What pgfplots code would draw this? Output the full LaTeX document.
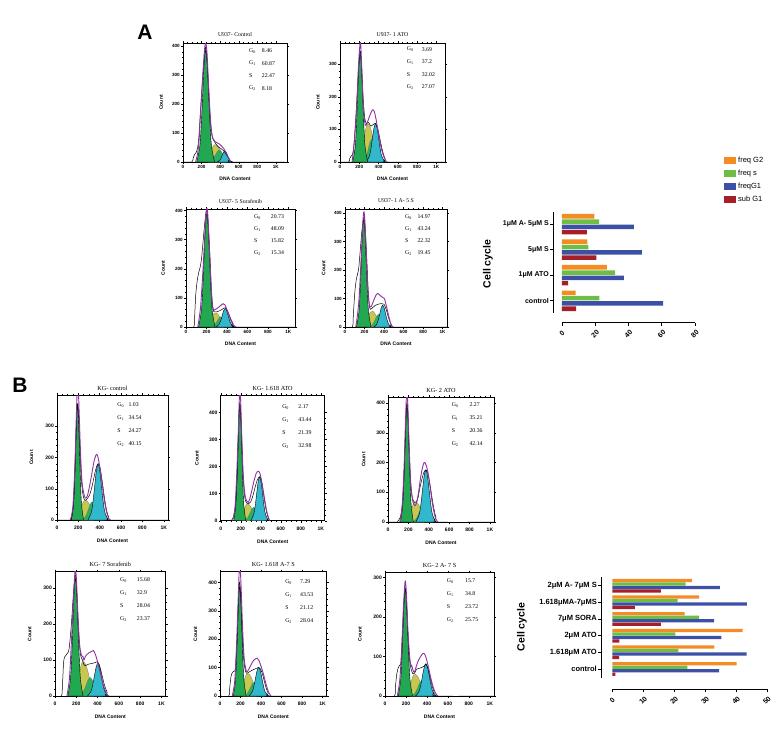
\documentclass[border=0pt]{standalone}
\usepackage{fontspec}
\setmainfont{Liberation Serif}
\setsansfont{Liberation Sans}
\usepackage{pgfplots}
\pgfplotsset{compat=1.18}
\definecolor{gG1}{RGB}{34,168,80}
\definecolor{gGb}{RGB}{45,175,95}
\definecolor{gS}{RGB}{200,200,80}
\definecolor{gG2}{RGB}{50,184,204}
\definecolor{gPur}{RGB}{142,50,160}
\definecolor{bOr}{RGB}{245,140,35}
\definecolor{bGr}{RGB}{110,190,70}
\definecolor{bBl}{RGB}{60,80,165}
\definecolor{bRd}{RGB}{165,30,40}
\pgfplotsset{
 /pgf/number format/assume math mode=true,
 hist/.style={
  scale only axis, anchor=south west,
  xmin=0, ymin=0,
  axis line style={line width=0.6pt},
  tick align=outside,
  major tick length=2pt, minor tick length=1pt,
  tick style={line width=0.4pt, black},
  xtick={0,200,400,600,800,1000}, xticklabels={0,200,400,600,800,1K},
  minor x tick num=3, minor y tick num=4,
  tick label style={font=\fontsize{4.6}{5}\selectfont\bfseries\sffamily, inner sep=1pt},
  xlabel={DNA Content}, ylabel={Count},
  label style={font=\fontsize{5}{6}\selectfont\bfseries\sffamily},
  xlabel style={at={(rel axis cs:0.5,0)}, anchor=center, yshift=-17pt},
  ylabel style={at={(rel axis cs:-0.21,0.5)}, anchor=center},
  title style={font=\fontsize{5.8}{6}\selectfont, at={(rel axis cs:0.5,1)}, anchor=center, yshift=2pt},
 },
 histB/.style={hist, xmax=1040,
  tick label style={font=\fontsize{5}{5.5}\selectfont\bfseries\sffamily},
  xticklabel style={yshift=-3pt},
  xlabel style={yshift=-4pt},
  ylabel style={at={(rel axis cs:-0.23,0.5)}},
  title style={font=\fontsize{6.2}{7}\selectfont, yshift=-1pt},
 },
 gs/.style={smooth, tension=0.6, fill=gS, draw=black!55, line width=0.3pt},
 gg/.style={smooth, tension=0.6, fill=gGb, draw=black!55, line width=0.3pt},
 gt/.style={smooth, tension=0.6, fill=gG2, draw=black, line width=0.4pt},
 g1/.style={smooth, tension=0.6, fill=gG1, draw=black, line width=0.4pt},
 dat/.style={smooth, tension=0.5, black, line width=0.5pt},
 pur/.style={smooth, tension=0.5, gPur, line width=0.9pt},
}
\tikzset{gtxt/.style={font=\fontsize{5.8}{6}\selectfont, inner sep=0pt, anchor=west}}
\newcommand{\Gv}[8]{%
 \node[gtxt] at (rel axis cs:#1,#3) {G\textsubscript{0}};
 \node[gtxt] at (rel axis cs:#2,#3) {#5};
 \node[gtxt,yshift=-#4] at (rel axis cs:#1,#3) {G\textsubscript{1}};
 \node[gtxt,yshift=-#4] at (rel axis cs:#2,#3) {#6};
 \node[gtxt,yshift=-2*#4] at (rel axis cs:#1,#3) {S};
 \node[gtxt,yshift=-2*#4] at (rel axis cs:#2,#3) {#7};
 \node[gtxt,yshift=-3*#4] at (rel axis cs:#1,#3) {G\textsubscript{2}};
 \node[gtxt,yshift=-3*#4] at (rel axis cs:#2,#3) {#8};
}
\begin{document}
\begin{tikzpicture}
\path[use as bounding box] (0pt,0pt) rectangle (775pt,-743pt);
\node[font=\fontsize{21}{22}\selectfont\bfseries\sffamily] at (145pt,-32pt) {A};
\node[font=\fontsize{21}{22}\selectfont\bfseries\sffamily] at (20pt,-385pt) {B};

% ---------------- A1
\begin{axis}[hist, at={(183pt,-162pt)}, width=104pt, height=119pt, xmax=1120, ymax=410, ytick={0,100,200,300,400}, title={U937- Control}]
\addplot[gs] coordinates {(285,0)(300,30)(320,52)(345,60)(370,56)(400,42)(430,22)(460,0)} \closedcycle;
\addplot[gg] coordinates {(270,0)(310,6)(330,14)(350,25)(370,37)(390,42)(410,37)(430,25)(450,14)(470,6)(510,0)} \closedcycle;
\addplot[gt] coordinates {(366,0)(394,5)(408,12)(422,23)(436,34)(450,38)(464,34)(478,23)(492,12)(506,5)(534,0)} \closedcycle;
\addplot[g1] coordinates {(148,0)(180,52)(196,125)(212,234)(228,340)(244,385)(260,340)(276,234)(292,125)(308,52)(340,0)} \closedcycle;
\addplot[dat] coordinates {(0,0)(95,0)(110,14)(125,26)(140,32)(158,50)(172,90)(189,180)(214,300)(233,372)(244,395)(258,360)(276,250)(295,140)(314,88)(335,72)(355,62)(380,52)(410,46)(440,38)(470,24)(500,10)(530,0)(1100,0)};
\addplot[pur] coordinates {(135,0)(155,25)(172,70)(189,165)(214,305)(233,390)(244,410)(258,378)(276,262)(295,150)(312,95)(325,80)(345,70)(370,66)(400,60)(430,50)(460,35)(490,15)(515,0)};
\Gv{0.635}{0.757}{0.935}{12.5pt}{8.46}{60.87}{22.47}{8.18}
\end{axis}

% ---------------- A2
\begin{axis}[hist, at={(340pt,-162pt)}, width=105pt, height=119pt, xmax=1090, ymax=365, ytick={0,100,200,300}, title={U937- 1 ATO}]
\addplot[gs] coordinates {(225,0)(245,60)(265,100)(290,116)(315,105)(340,75)(365,30)(385,0)} \closedcycle;
\addplot[gg] coordinates {(225,0)(260,9)(277.5,23)(295,42)(312.5,62)(330,70)(347.5,62)(365,42)(382.5,23)(400,9)(435,0)} \closedcycle;
\addplot[gt] coordinates {(270,0)(303,16)(319.5,38)(336,72)(352.5,104)(369,118)(385.5,104)(402,72)(418.5,38)(435,16)(468,0)} \closedcycle;
\addplot[g1] coordinates {(131,0)(157,45)(170,109)(183,203)(196,295)(209,334)(222,295)(235,203)(248,109)(261,45)(287,0)} \closedcycle;
\addplot[dat] coordinates {(0,0)(90,0)(100,10)(115,18)(128,22)(140,38)(154,90)(173,180)(191,280)(204,330)(213,340)(225,290)(241,190)(258,132)(275,118)(290,122)(305,118)(320,110)(345,115)(370,118)(395,98)(420,62)(445,30)(470,8)(495,0)(1090,0)};
\addplot[pur] coordinates {(125,0)(148,60)(173,170)(191,290)(204,350)(213,370)(223,310)(238,200)(254,128)(268,112)(285,122)(300,135)(320,150)(337,160)(355,155)(375,130)(400,85)(430,40)(460,12)(485,0)};
\Gv{0.635}{0.778}{0.947}{12.5pt}{3.69}{37.2}{32.02}{27.07}
\end{axis}

% ---------------- A3
\begin{axis}[hist, at={(186pt,-327pt)}, width=109pt, height=118pt, xmax=1065, ymax=405, ytick={0,100,200,300,400}, title={U937- 5 Sorafenib}]
\addplot[gs] coordinates {(235,0)(250,30)(270,45)(295,48)(320,40)(345,22)(370,0)} \closedcycle;
\addplot[gg] coordinates {(235,0)(270,5)(287.5,11)(305,21)(322.5,31)(340,35)(357.5,31)(375,21)(392.5,11)(410,5)(445,0)} \closedcycle;
\addplot[gt] coordinates {(293,0)(323,9)(338,20)(353,38)(368,56)(383,63)(398,56)(413,38)(428,20)(443,9)(473,0)} \closedcycle;
\addplot[g1] coordinates {(122,0)(149,53)(162.5,126)(176,236)(189.5,343)(203,389)(216.5,343)(230,236)(243.5,126)(257,53)(284,0)} \closedcycle;
\addplot[dat] coordinates {(0,0)(75,0)(85,40)(95,110)(110,160)(125,188)(138,205)(152,235)(166,290)(181,350)(196,395)(205,400)(218,350)(234,240)(249,120)(264,60)(280,52)(300,52)(330,56)(360,62)(385,66)(410,52)(435,30)(460,12)(490,0)(1060,0)};
\addplot[pur] coordinates {(115,0)(140,60)(158,150)(176,260)(189,350)(199,400)(205,410)(214,380)(230,260)(249,120)(262,68)(275,58)(295,62)(320,68)(345,76)(362,80)(380,76)(405,55)(435,25)(465,6)(490,0)};
\Gv{0.624}{0.777}{0.935}{12pt}{20.73}{48.09}{15.82}{15.34}
\end{axis}

% ---------------- A4
\begin{axis}[hist, at={(345pt,-327pt)}, width=102pt, height=118pt, xmax=1045, ymax=414, ytick={0,100,200,300,400}, title={U937- 1 A- 5 S}]
\addplot[gs] coordinates {(225,0)(240,35)(260,52)(285,55)(310,45)(335,25)(360,0)} \closedcycle;
\addplot[gg] coordinates {(240,0)(275,6)(292.5,15)(310,27)(327.5,40)(345,45)(362.5,40)(380,27)(397.5,15)(415,6)(450,0)} \closedcycle;
\addplot[gt] coordinates {(296,0)(326,10)(341,25)(356,46)(371,67)(386,76)(401,67)(416,46)(431,25)(446,10)(476,0)} \closedcycle;
\addplot[g1] coordinates {(117,0)(142,51)(154.5,122)(167,228)(179.5,332)(192,376)(204.5,332)(217,228)(229.5,122)(242,51)(267,0)} \closedcycle;
\addplot[dat] coordinates {(0,0)(75,0)(85,40)(100,120)(115,165)(128,185)(140,205)(154,260)(171,330)(187,375)(196,385)(208,340)(224,230)(239,120)(254,66)(270,64)(290,70)(310,76)(340,80)(370,82)(400,80)(425,58)(450,28)(475,8)(495,0)(1045,0)};
\addplot[pur] coordinates {(110,0)(127,40)(146,110)(165,240)(180,350)(192,403)(202,380)(217,270)(233,140)(246,85)(258,70)(272,74)(290,90)(315,110)(335,118)(355,112)(380,105)(403,100)(425,72)(450,35)(470,10)(490,0)};
\Gv{0.588}{0.709}{0.935}{12pt}{14.97}{43.24}{22.32}{19.45}
\end{axis}

% ---------------- B1
\begin{axis}[histB, at={(57pt,-520pt)}, width=111pt, height=125pt, ymax=400, ytick={0,100,200,300}, title={KG- control}]
\addplot[gs] coordinates {(215,0)(230,40)(250,60)(270,63)(295,55)(320,35)(345,0)} \closedcycle;
\addplot[gg] coordinates {(225,0)(260,8)(277.5,19)(295,35)(312.5,51)(330,58)(347.5,51)(365,35)(382.5,19)(400,8)(435,0)} \closedcycle;
\addplot[gt] coordinates {(289,0)(321,24)(337,58)(353,108)(369,157)(385,178)(401,157)(417,108)(433,58)(449,24)(481,0)} \closedcycle;
\addplot[g1] coordinates {(135,0)(154,49)(163.5,119)(173,222)(182.5,322)(192,365)(201.5,322)(211,222)(220.5,119)(230,49)(249,0)} \closedcycle;
\addplot[dat] coordinates {(0,0)(120,0)(136,8)(154,50)(168,150)(180,280)(189,360)(197,370)(206,310)(218,200)(233,110)(249,72)(264,63)(282,68)(305,80)(330,110)(355,150)(375,175)(390,180)(405,165)(425,120)(445,70)(465,30)(485,8)(505,0)(1040,0)};
\addplot[pur] coordinates {(124,0)(148,40)(166,160)(180,320)(189,410)(199,420)(209,330)(221,210)(235,120)(256,78)(270,70)(285,78)(300,100)(325,145)(345,185)(362,205)(372,210)(385,200)(405,160)(425,110)(445,60)(465,25)(485,5)(500,0)};
\Gv{0.543}{0.643}{0.92}{13pt}{1.03}{34.54}{24.27}{40.15}
\end{axis}

% ---------------- B2
\begin{axis}[histB, at={(220.7pt,-520.7pt)}, width=104pt, height=125.7pt, ymax=465, ytick={0,100,200,300,400}, title={KG- 1.618 ATO}]
\addplot[gs] coordinates {(220,0)(235,40)(255,60)(275,62)(300,52)(325,30)(345,0)} \closedcycle;
\addplot[gg] coordinates {(225,0)(260,7)(277.5,16)(295,30)(312.5,44)(330,50)(347.5,44)(365,30)(382.5,16)(400,7)(435,0)} \closedcycle;
\addplot[gt] coordinates {(299,0)(329,22)(344,52)(359,98)(374,142)(389,161)(404,142)(419,98)(434,52)(449,22)(479,0)} \closedcycle;
\addplot[g1] coordinates {(131,0)(151,58)(161,141)(171,263)(181,382)(191,433)(201,382)(211,263)(221,141)(231,58)(251,0)} \closedcycle;
\addplot[dat] coordinates {(0,0)(100,0)(113,5)(131,15)(148,60)(164,160)(176,300)(185,400)(192,435)(202,390)(213,270)(228,140)(244,80)(263,64)(280,63)(300,70)(320,90)(345,125)(365,150)(385,162)(400,158)(420,120)(440,70)(460,30)(480,8)(500,0)(1040,0)};
\addplot[pur] coordinates {(119,0)(143,50)(160,170)(176,330)(185,440)(192,480)(199,450)(211,310)(225,170)(243,95)(261,72)(275,68)(290,80)(310,110)(335,150)(355,175)(375,183)(392,175)(410,145)(430,100)(450,55)(470,20)(490,0)};
\Gv{0.59}{0.746}{0.907}{13pt}{2.17}{43.44}{21.39}{32.98}
\end{axis}

% ---------------- B3
\begin{axis}[histB, at={(388pt,-522pt)}, width=106pt, height=125pt, ymax=420, ytick={0,100,200,300,400}, title={KG- 2 ATO}]
\addplot[gs] coordinates {(220,0)(235,45)(255,65)(280,66)(305,55)(330,30)(355,0)} \closedcycle;
\addplot[gg] coordinates {(233,0)(266,6)(282.5,14)(299,27)(315.5,39)(332,44)(348.5,39)(365,27)(381.5,14)(398,6)(431,0)} \closedcycle;
\addplot[gt] coordinates {(272,0)(305,24)(321.5,57)(338,106)(354.5,154)(371,175)(387.5,154)(404,106)(420.5,57)(437,24)(470,0)} \closedcycle;
\addplot[g1] coordinates {(123,0)(144,54)(154.5,129)(165,242)(175.5,351)(186,398)(196.5,351)(207,242)(217.5,129)(228,54)(249,0)} \closedcycle;
\addplot[dat] coordinates {(0,0)(90,0)(103,5)(120,15)(138,50)(156,150)(170,280)(179,370)(187,400)(196,350)(208,240)(223,130)(240,80)(261,66)(278,68)(295,82)(310,110)(330,140)(350,165)(370,175)(390,165)(410,130)(430,85)(450,45)(470,15)(490,0)(1040,0)};
\addplot[pur] coordinates {(115,0)(138,50)(156,170)(170,320)(179,410)(186,440)(195,390)(208,250)(223,130)(240,75)(253,60)(265,55)(280,64)(300,100)(320,150)(340,185)(355,200)(370,195)(390,170)(410,125)(430,75)(450,35)(470,10)(490,0)};
\Gv{0.60}{0.767}{0.936}{13pt}{2.27}{35.21}{20.36}{42.14}
\end{axis}

% ---------------- B4
\begin{axis}[histB, at={(55pt,-696pt)}, width=110.7pt, height=124.3pt, ymax=345, ytick={0,100,200,300}, title={KG- 7 Sorafenib}]
\addplot[gs] coordinates {(215,0)(230,60)(250,90)(270,95)(295,82)(320,55)(345,25)(365,0)} \closedcycle;
\addplot[gg] coordinates {(216,0)(254,7)(273,17)(292,31)(311,45)(330,51)(349,45)(368,31)(387,17)(406,7)(444,0)} \closedcycle;
\addplot[gt] coordinates {(304,0)(337,12)(353.5,30)(370,55)(386.5,80)(403,91)(419.5,80)(436,55)(452.5,30)(469,12)(502,0)} \closedcycle;
\addplot[g1] coordinates {(120,0)(144,44)(156,106)(168,198)(180,288)(192,326)(204,288)(216,198)(228,106)(240,44)(264,0)} \closedcycle;
\addplot[dat] coordinates {(0,0)(60,0)(70,30)(80,90)(90,108)(110,116)(125,122)(136,140)(154,200)(172,280)(186,330)(196,330)(208,270)(223,170)(240,115)(258,100)(270,88)(285,84)(310,88)(340,90)(370,92)(395,95)(415,88)(440,60)(465,30)(490,10)(510,0)(1040,0)};
\addplot[pur] coordinates {(112,0)(136,50)(154,150)(172,260)(184,330)(192,355)(202,320)(216,220)(232,140)(250,112)(262,110)(272,100)(285,110)(300,115)(320,120)(345,124)(362,126)(380,115)(400,95)(425,65)(450,35)(475,12)(500,0)};
\Gv{0.587}{0.738}{0.933}{13pt}{15.68}{32.9}{28.04}{23.37}
\end{axis}

% ---------------- B5
\begin{axis}[histB, at={(220pt,-696pt)}, width=106.7pt, height=124.3pt, ymax=438, ytick={0,100,200,300,400}, title={KG- 1.618 A-7 S}]
\addplot[gs] coordinates {(220,0)(235,50)(255,75)(280,78)(305,65)(330,38)(355,0)} \closedcycle;
\addplot[gg] coordinates {(225,0)(260,6)(277.5,16)(295,29)(312.5,42)(330,48)(347.5,42)(365,29)(382.5,16)(400,6)(435,0)} \closedcycle;
\addplot[gt] coordinates {(281,0)(313,14)(329,33)(345,61)(361,89)(377,101)(393,89)(409,61)(425,33)(441,14)(473,0)} \closedcycle;
\addplot[g1] coordinates {(129,0)(150,52)(160.5,125)(171,234)(181.5,340)(192,385)(202.5,340)(213,234)(223.5,125)(234,52)(255,0)} \closedcycle;
\addplot[dat] coordinates {(0,0)(85,0)(95,30)(108,70)(123,84)(138,88)(150,96)(164,180)(178,320)(187,390)(194,400)(204,340)(215,240)(231,130)(248,88)(263,80)(280,84)(300,88)(320,92)(345,96)(370,100)(390,98)(410,82)(430,55)(450,28)(470,10)(495,0)(1040,0)};
\addplot[pur] coordinates {(119,0)(143,50)(160,170)(176,330)(187,440)(194,460)(204,400)(218,260)(234,140)(251,95)(264,86)(280,94)(300,108)(320,122)(345,131)(362,133)(380,125)(400,105)(425,75)(450,40)(475,12)(497,0)};
\Gv{0.61}{0.75}{0.92}{13pt}{7.29}{43.53}{21.12}{28.04}
\end{axis}

% ---------------- B6
\begin{axis}[histB, at={(385pt,-696pt)}, width=109pt, height=123.3pt, ymax=312, ytick={0,100,200,300}, title={KG- 2 A- 7 S}]
\addplot[gs] coordinates {(235,0)(250,35)(270,52)(290,55)(315,48)(340,32)(365,12)(381,0)} \closedcycle;
\addplot[gg] coordinates {(244,0)(279,5)(296.5,12)(314,23)(331.5,34)(349,38)(366.5,34)(384,23)(401.5,12)(419,5)(454,0)} \closedcycle;
\addplot[gt] coordinates {(291,0)(324,11)(340.5,27)(357,50)(373.5,72)(390,82)(406.5,72)(423,50)(439.5,27)(456,11)(489,0)} \closedcycle;
\addplot[g1] coordinates {(125,0)(148,37)(159.5,88)(171,165)(182.5,240)(194,272)(205.5,240)(217,165)(228.5,88)(240,37)(263,0)} \closedcycle;
\addplot[dat] coordinates {(0,0)(90,0)(100,25)(112,55)(127,72)(140,78)(152,84)(165,150)(177,220)(187,262)(194,272)(204,240)(216,170)(231,100)(249,68)(267,56)(282,58)(302,68)(325,70)(350,72)(375,76)(390,80)(410,70)(430,48)(450,25)(470,10)(495,0)(1040,0)};
\addplot[pur] coordinates {(117,0)(141,40)(159,120)(175,220)(187,275)(194,291)(204,260)(218,170)(235,100)(250,74)(256,76)(262,70)(272,62)(280,60)(295,72)(315,88)(340,100)(358,107)(372,108)(388,100)(410,78)(435,48)(460,22)(485,6)(505,0)};
\Gv{0.566}{0.734}{0.935}{13pt}{15.7}{34.8}{23.72}{25.75}
\end{axis}

% ---------------- Bar chart A
\begin{axis}[at={(553pt,-322.7pt)}, anchor=south west, scale only axis, width=142pt, height=111pt,
 xmin=-5.4, xmax=80, ymin=-0.86, ymax=3.49, clip=false,
 xbar, bar width=4.6pt,
 axis x line*=bottom, axis y line*=left, axis line style={draw=none},
 tick align=outside, major tick length=3pt, tick style={black, line width=0.8pt},
 xtick={0,20,40,60,80}, ytick={0,1,2,3},
 yticklabels={control,1μM ATO,5μM S,1μM A- 5μM S},
 yticklabel style={font=\fontsize{7}{8}\selectfont\bfseries\sffamily, inner sep=1pt},
 xticklabel style={font=\fontsize{7}{8}\selectfont\bfseries\sffamily, inner sep=0pt, yshift=-8pt, rotate=45, anchor=center},
 ylabel={Cell cycle}, ylabel style={at={(rel axis cs:-0.458,0.529)}, anchor=center, font=\fontsize{10.5}{12}\selectfont\bfseries\sffamily},
 legend style={at={(rel axis cs:1.204,1.511)}, anchor=north west, draw=none, fill=none, font=\fontsize{7.5}{9}\selectfont\sffamily, row sep=2pt, inner sep=0pt},
 legend image code/.code={\fill[#1] (0pt,-3.5pt) rectangle (12pt,3.5pt);},
 legend cell align=left,
]
\addplot[fill=bOr, draw=none, bar shift=7.95pt] coordinates {(8.18,0)(27.07,1)(15.34,2)(19.45,3)};
\addplot[fill=bGr, draw=none, bar shift=2.65pt] coordinates {(22.47,0)(32.02,1)(15.82,2)(22.32,3)};
\addplot[fill=bBl, draw=none, bar shift=-2.65pt] coordinates {(60.87,0)(37.2,1)(48.09,2)(43.24,3)};
\addplot[fill=bRd, draw=none, bar shift=-7.95pt] coordinates {(8.46,0)(3.69,1)(20.73,2)(14.97,3)};
\legend{freq G2, freq s, freqG1, sub G1}
\draw[line width=0.8pt] (axis cs:0,-0.86) -- (axis cs:80,-0.86);
\draw[line width=0.8pt] (axis cs:-5.4,-0.48) -- (axis cs:-5.4,3.49);
\end{axis}

% ---------------- Bar chart B
\begin{axis}[at={(601pt,-689.3pt)}, anchor=south west, scale only axis, width=166pt, height=112.3pt,
 xmin=-3.65, xmax=50, ymin=-1.22, ymax=5.52, clip=false,
 xbar, bar width=3.3pt,
 axis x line*=bottom, axis y line*=left, axis line style={draw=none},
 tick align=outside, major tick length=3pt, tick style={black, line width=0.8pt},
 xtick={0,10,20,30,40,50}, ytick={0,1,2,3,4,5},
 yticklabels={control,1.618μM ATO,2μM  ATO,7μM SORA,1.618μMA-7μMS,2μM A- 7μM S},
 yticklabel style={font=\fontsize{7.5}{8}\selectfont\bfseries\sffamily, inner sep=1pt},
 xticklabel style={font=\fontsize{7}{8}\selectfont\bfseries\sffamily, inner sep=0pt, yshift=-8pt, rotate=45, anchor=center},
 ylabel={Cell cycle}, ylabel style={at={(rel axis cs:-0.476,0.555)}, anchor=center, font=\fontsize{10.5}{12}\selectfont\bfseries\sffamily},
]
\addplot[fill=bOr, draw=none, bar shift=5.25pt] coordinates {(40.15,0)(32.98,1)(42.14,2)(23.37,3)(28.04,4)(25.75,5)};
\addplot[fill=bGr, draw=none, bar shift=1.75pt] coordinates {(24.27,0)(21.39,1)(20.36,2)(28.04,3)(21.12,4)(23.72,5)};
\addplot[fill=bBl, draw=none, bar shift=-1.75pt] coordinates {(34.54,0)(43.44,1)(35.21,2)(32.9,3)(43.53,4)(34.8,5)};
\addplot[fill=bRd, draw=none, bar shift=-5.25pt] coordinates {(1.03,0)(2.17,1)(2.27,2)(15.68,3)(7.29,4)(15.7,5)};
\draw[line width=0.8pt] (axis cs:0,-1.22) -- (axis cs:50,-1.22);
\draw[line width=0.8pt] (axis cs:-3.65,-0.52) -- (axis cs:-3.65,5.52);
\end{axis}
\end{tikzpicture}
\end{document}
